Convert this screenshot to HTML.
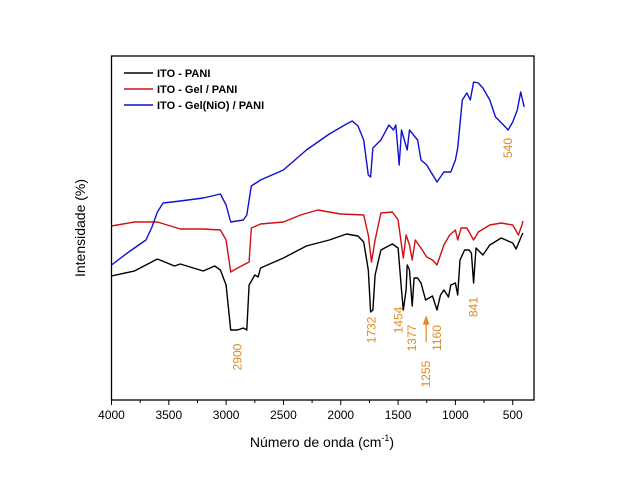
<!DOCTYPE html>
<html><head><meta charset="utf-8"><style>
body{margin:0;background:#fff;}
svg{display:block;font-family:"Liberation Sans",Arial,sans-serif;}
</style></head><body>
<svg id="chart" width="621" height="480">
<rect x="111.5" y="56" width="422.5" height="344" fill="none" stroke="#000" stroke-width="1.3"/>
<g id="axis"></g>
<g id="series"></g>
<g id="annot"></g>
<text x="85" y="228" transform="rotate(-90 85 228)" text-anchor="middle" font-size="14">Intensidade (%)</text>
<text x="322" y="447" text-anchor="middle" font-size="14">Número de onda (cm<tspan dy="-6" font-size="9">-1</tspan><tspan dy="6">)</tspan></text>
<g font-size="11" font-weight="bold">
<line x1="124" y1="73" x2="153" y2="73" stroke="#000" stroke-width="1.5"/>
<text x="157" y="77">ITO - PANI</text>
<line x1="124" y1="89" x2="153" y2="89" stroke="#d01010" stroke-width="1.5"/>
<text x="157" y="93">ITO - Gel / PANI</text>
<line x1="124" y1="105" x2="153" y2="105" stroke="#1010d0" stroke-width="1.5"/>
<text x="157" y="109">ITO - Gel(NiO) / PANI</text>
</g>
</svg>
<script>
const ticks=[4000,3500,3000,2500,2000,1500,1000,500];
const minorTicks=[3750,3250,2750,2250,1750,1250,750];
const blackWn=[4000,3800,3600,3450,3400,3200,3100,3050,3000,2960,2900,2850,2820,2800,2750,2720,2700,2500,2300,2100,1950,1850,1800,1760,1740,1720,1700,1650,1550,1500,1470,1454,1430,1420,1400,1377,1360,1330,1300,1260,1200,1160,1130,1100,1060,1040,1000,980,960,920,880,860,841,820,760,700,600,500,470,420,410];
const blackPx=[276,271,259,266,264,271,266,270,285,330,330,328,330,285,275,277,268,258,246,240,234,236,242,270,312,310,275,250,244,248,290,310,290,265,270,306,278,278,283,300,296,310,295,290,297,285,283,295,260,250,250,253,283,248,255,245,238,243,249,235,233];
const redWn=[4000,3800,3600,3400,3200,3050,3000,2960,2900,2850,2800,2780,2700,2500,2350,2200,2000,1800,1760,1732,1700,1650,1550,1500,1470,1454,1430,1400,1377,1350,1300,1250,1200,1160,1100,1050,1000,980,950,900,841,800,700,600,500,450,420,410];
const redPx=[226,222,222,229,229,230,240,272,268,265,262,228,224,222,215,210,214,215,235,262,240,213,212,220,245,258,235,245,260,240,248,257,260,265,245,235,230,240,228,228,240,232,225,223,225,235,225,221];
const blueWn=[4000,3850,3700,3650,3600,3550,3400,3200,3050,3000,2960,2850,2820,2780,2700,2500,2300,2100,1950,1900,1850,1800,1760,1740,1720,1650,1580,1540,1520,1490,1470,1420,1400,1330,1300,1250,1160,1100,1040,1000,980,940,900,870,841,800,760,700,650,580,540,500,460,430,400];
const bluePx=[265,252,240,228,212,203,201,198,194,205,222,220,215,186,180,170,150,134,124,121,126,140,175,177,148,140,125,130,125,165,130,150,130,140,160,165,182,172,172,160,148,100,93,100,82,83,88,100,117,125,130,122,110,92,107];
const annLabels=["2900","1732","1454","1377","1255","1160","841","540"];
const annWn=[2900,1732,1454,1377,1255,1160,841,540];
const annY=[357,330,320,338,374,338,307,148];
const annDx=[0,0,-5,0,0,0,0,0];
const X0=111.5, PPU=0.11463;
const xs=w=>X0+(4000-w)*PPU;
const toVal=p=>(400-p)/3.44;
const ys=v=>400-v*3.44;
const NS="http://www.w3.org/2000/svg";
const ax=document.getElementById('axis');
ticks.forEach(t=>{
 const l=document.createElementNS(NS,'line');
 l.setAttribute('x1',xs(t));l.setAttribute('x2',xs(t));l.setAttribute('y1',400);l.setAttribute('y2',405);l.setAttribute('stroke','#000');
 
 
 ax.appendChild(l);
 const tx=document.createElementNS(NS,'text');
 tx.setAttribute('x',xs(t));tx.setAttribute('y',419);tx.setAttribute('text-anchor','middle');tx.setAttribute('font-size','12');
 tx.textContent=t;
 
 
 ax.appendChild(tx);
});
minorTicks.forEach(t=>{
 const l=document.createElementNS(NS,'line');
 l.setAttribute('x1',xs(t));l.setAttribute('x2',xs(t));l.setAttribute('y1',400);l.setAttribute('y2',403);l.setAttribute('stroke','#000');
 
 
 ax.appendChild(l);
});
const sg=document.getElementById('series');
function drawSeries(wn,px,color,name){
 const p=document.createElementNS(NS,'path');
 p.setAttribute('d',wn.map((w,i)=>(i?'L':'M')+xs(w).toFixed(1)+' '+ys(toVal(px[i])).toFixed(1)).join(' '));
 p.setAttribute('fill','none');p.setAttribute('stroke',color);p.setAttribute('stroke-width','1.4');p.setAttribute('stroke-linejoin','round');
 
 
 sg.appendChild(p);
}
drawSeries(blackWn,blackPx,'#000','series-ito-pani');
drawSeries(redWn,redPx,'#d01010','series-ito-gel-pani');
drawSeries(blueWn,bluePx,'#1010d0','series-ito-gelnio-pani');
const an=document.getElementById('annot');
annLabels.forEach((s,i)=>{
 const x=xs(annWn[i])+annDx[i], y=annY[i];
 const t=document.createElementNS(NS,'text');
 t.setAttribute('x',x+4);t.setAttribute('y',y);t.setAttribute('transform','rotate(-90 '+(x+4)+' '+y+')');
 t.setAttribute('text-anchor','middle');t.setAttribute('font-size','12');t.setAttribute('fill','#e08a20');
 t.textContent=s;
 
 
 an.appendChild(t);
});
const ar=document.createElementNS(NS,'path');
ar.setAttribute('d','M'+xs(1255)+' 342 L'+xs(1255)+' 320 M'+(xs(1255)-2.5)+' 324 L'+xs(1255)+' 317 L'+(xs(1255)+2.5)+' 324 Z');
ar.setAttribute('stroke','#e08a20');ar.setAttribute('fill','#e08a20');ar.setAttribute('stroke-width','1.2');


an.appendChild(ar);
</script>
</body></html>
